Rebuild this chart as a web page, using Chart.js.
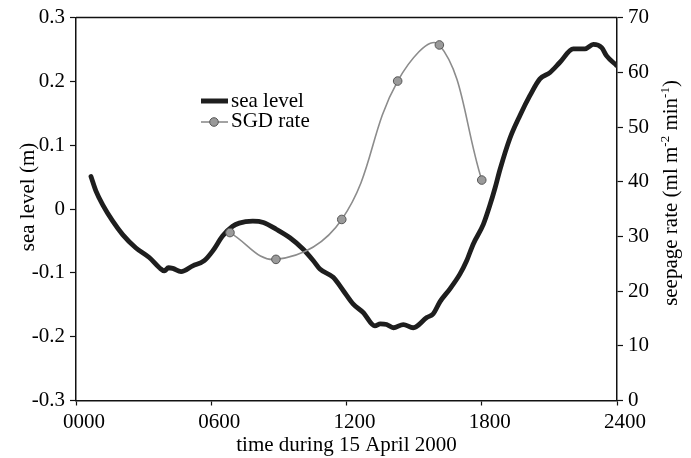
<!DOCTYPE html>
<html>
<head>
<meta charset="utf-8">
<script src="https://cdn.jsdelivr.net/npm/chart.js@4/dist/chart.umd.min.js"></script>
<style>
html,body{margin:0;padding:0;background:#fff;}
#wrap{width:691px;height:458px;}
</style>
</head>
<body>
<div id="wrap"><canvas id="c" width="691" height="458"></canvas></div>
<script>
// time of day in hours (axis labelled HHMM)
const seaTime = [0.665, 0.887, 1.18, 1.63, 2.07, 2.66, 3.25, 3.70, 3.92, 4.10, 4.29, 4.66, 5.18, 5.69, 6.06, 6.51, 6.95, 7.24, 7.84, 8.31, 8.90, 9.49, 10.08, 10.53, 10.82, 11.41, 11.86, 12.30, 12.74, 13.26, 13.50, 13.78, 14.08, 14.52, 14.96, 15.56, 15.85, 16.15, 16.59, 17.03, 17.33, 17.62, 18.07, 18.37, 18.59, 18.81, 19.25, 19.70, 20.14, 20.58, 21.03, 21.47, 22.06, 22.58, 22.95, 23.32, 23.54, 23.98];
const seaLevel = [0.051, 0.028, 0.007, -0.019, -0.040, -0.061, -0.076, -0.092, -0.097, -0.092, -0.093, -0.098, -0.089, -0.081, -0.066, -0.042, -0.027, -0.022, -0.019, -0.021, -0.032, -0.045, -0.063, -0.081, -0.094, -0.107, -0.128, -0.149, -0.162, -0.183, -0.180, -0.181, -0.186, -0.181, -0.186, -0.170, -0.164, -0.145, -0.125, -0.102, -0.081, -0.055, -0.024, 0.007, 0.033, 0.062, 0.111, 0.147, 0.178, 0.204, 0.214, 0.230, 0.251, 0.251, 0.258, 0.253, 0.240, 0.225];
const sgdTime = [6.83, 8.87, 11.79, 14.27, 16.12, 18.0];
const sgdRate = [30.7, 25.8, 33.1, 58.4, 65.0, 40.3];
const xTickValues = [0, 6, 12, 18, 24];
const seriesNames = ['sea level', 'SGD rate'];
const xTitle = 'time during 15 April 2000';
const yTitle = 'sea level (m)';

const FONT = "'Liberation Serif','Times New Roman',serif";
const tickFont = {family: FONT, size: 21};

const decor = {
  id: 'decor',
  afterDraw(chart) {
    const ctx = chart.ctx;
    const a = chart.chartArea;
    ctx.save();
    // top frame line
    ctx.strokeStyle = '#111';
    ctx.lineWidth = 1.5;
    ctx.beginPath();
    ctx.moveTo(a.left, a.top);
    ctx.lineTo(a.right, a.top);
    ctx.stroke();

    ctx.fillStyle = '#000';
    // x title
    ctx.font = "21px " + FONT;
    ctx.textAlign = 'center';
    ctx.textBaseline = 'alphabetic';
    ctx.fillText(xTitle, (a.left + a.right) / 2, 451);

    // left title (bottom to top)
    ctx.save();
    ctx.translate(34, 197);
    ctx.rotate(-Math.PI / 2);
    ctx.textAlign = 'center';
    ctx.fillText(yTitle, 0, 0);
    ctx.restore();

    // right title with superscripts (bottom to top)
    ctx.save();
    ctx.translate(677, 193);
    ctx.rotate(-Math.PI / 2);
    const parts = [
      ['seepage rate (ml m', false],
      ['-2', true],
      [' min', false],
      ['-1', true],
      [')', false]
    ];
    const big = "21px " + FONT, small = "13px " + FONT;
    let total = 0;
    parts.forEach(p => { ctx.font = p[1] ? small : big; total += ctx.measureText(p[0]).width; });
    let x = -total / 2;
    ctx.textAlign = 'left';
    parts.forEach(p => {
      ctx.font = p[1] ? small : big;
      ctx.fillText(p[0], x, p[1] ? -8 : 0);
      x += ctx.measureText(p[0]).width;
    });
    ctx.restore();

    // legend
    ctx.strokeStyle = '#1e1e1e';
    ctx.lineWidth = 5;
    ctx.beginPath();
    ctx.moveTo(201, 101);
    ctx.lineTo(228, 101);
    ctx.stroke();
    ctx.strokeStyle = '#8c8c8c';
    ctx.lineWidth = 1.6;
    ctx.beginPath();
    ctx.moveTo(201, 122);
    ctx.lineTo(228, 122);
    ctx.stroke();
    ctx.beginPath();
    ctx.arc(214, 122, 4.3, 0, Math.PI * 2);
    ctx.fillStyle = '#9a9a9a';
    ctx.fill();
    ctx.strokeStyle = '#555';
    ctx.lineWidth = 1;
    ctx.stroke();
    ctx.fillStyle = '#000';
    ctx.font = "21px " + FONT;
    ctx.textAlign = 'left';
    ctx.textBaseline = 'alphabetic';
    ctx.fillText(seriesNames[0], 231, 107);
    ctx.fillText(seriesNames[1], 231, 127);
    ctx.restore();
  }
};

new Chart(document.getElementById('c'), {
  type: 'line',
  data: {
    datasets: [
      {
        label: seriesNames[0],
        data: seaTime.map((t, i) => ({x: t, y: seaLevel[i]})),
        yAxisID: 'y',
        borderColor: '#1e1e1e',
        borderWidth: 4.8,
        borderJoinStyle: 'round',
        borderCapStyle: 'round',
        pointRadius: 0,
        cubicInterpolationMode: 'monotone',
        order: 1
      },
      {
        label: seriesNames[1],
        data: sgdTime.map((t, i) => ({x: t, y: sgdRate[i]})),
        yAxisID: 'y2',
        borderColor: '#8c8c8c',
        borderWidth: 1.6,
        pointRadius: 4.3,
        pointBackgroundColor: '#9a9a9a',
        pointBorderColor: '#555',
        pointBorderWidth: 1,
        tension: 0.4,
        order: 0
      }
    ]
  },
  options: {
    responsive: false,
    animation: false,
    layout: {padding: {top: 15, left: 0, right: 0, bottom: 0}},
    plugins: {legend: {display: false}, tooltip: {enabled: false}},
    scales: {
      x: {
        type: 'linear', min: 0, max: 24,
        afterBuildTicks: s => { s.ticks = xTickValues.map(v => ({value: v})); },
        ticks: {
          callback: v => String(Math.round(v * 100)).padStart(4, '0'),
          font: tickFont, color: '#000', padding: 4, maxRotation: 0, autoSkip: false, labelOffset: 8
        },
        grid: {drawOnChartArea: false, drawTicks: true, tickLength: 5, color: '#111', tickWidth: 1.2},
        border: {color: '#111', width: 1.5},
        afterFit: s => { s.height = 57.5; }
      },
      y: {
        position: 'left', min: -0.3, max: 0.3,
        ticks: {
          stepSize: 0.1,
          callback: v => { const r = Math.round(v * 10) / 10; return r === 0 ? '0' : r.toFixed(1); },
          font: tickFont, color: '#000', padding: 5
        },
        grid: {drawOnChartArea: false, drawTicks: true, tickLength: 6, color: '#111', tickWidth: 1.2},
        border: {color: '#111', width: 1.5},
        afterFit: s => { s.width = 76; }
      },
      y2: {
        position: 'right', min: 0, max: 70,
        ticks: {stepSize: 10, font: tickFont, color: '#000', padding: 5},
        grid: {drawOnChartArea: false, drawTicks: true, tickLength: 6, color: '#111', tickWidth: 1.2},
        border: {color: '#111', width: 1.5},
        afterFit: s => { s.width = 74; }
      }
    }
  },
  plugins: [decor]
});
</script>
</body>
</html>
